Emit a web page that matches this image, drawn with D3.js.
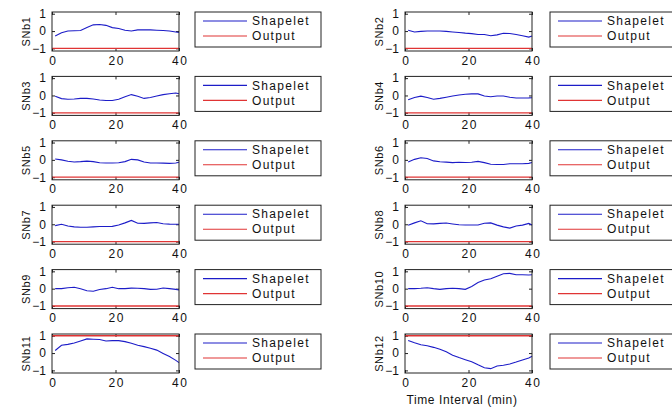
<!DOCTYPE html>
<html>
<head>
<meta charset="utf-8">
<script src="https://cdn.jsdelivr.net/npm/d3@7"></script>
<style>
  body { margin: 0; background: #fff; }
  svg { display: block; font-family: "Liberation Sans", Arial, sans-serif; }
</style>
</head>
<body>
<svg width="672" height="408"></svg>
<script>
// tijdstippen (min) waarop de shapelets bemonsterd zijn
const time = [1, 3, 5, 7, 9, 11, 13, 15, 17, 19, 21, 23, 25, 27, 29, 31, 33, 35, 37, 39, 40];

const panelNames = ["SNb1", "SNb2", "SNb3", "SNb4", "SNb5", "SNb6",
                    "SNb7", "SNb8", "SNb9", "SNb10", "SNb11", "SNb12"];

const shapelets = [
  [-0.28, -0.1, 0.0, 0.02, 0.03, 0.2, 0.36, 0.38, 0.33, 0.2, 0.15, 0.05, 0.0, 0.07, 0.07, 0.07, 0.05, 0.03, 0.0, -0.05, -0.08],
  [0.05, -0.05, -0.02, 0, 0, 0, -0.02, -0.05, -0.08, -0.12, -0.15, -0.2, -0.2, -0.27, -0.22, -0.13, -0.14, -0.2, -0.27, -0.35, -0.28],
  [-0.05, -0.18, -0.22, -0.2, -0.17, -0.17, -0.2, -0.26, -0.29, -0.29, -0.22, -0.07, 0.05, -0.05, -0.17, -0.12, -0.03, 0.05, 0.1, 0.14, 0.1],
  [-0.25, -0.12, -0.04, -0.12, -0.22, -0.17, -0.1, -0.03, 0.03, 0.07, 0.09, 0.09, -0.03, -0.07, -0.03, -0.03, -0.1, -0.15, -0.15, -0.14, -0.13],
  [0.05, 0.0, -0.08, -0.12, -0.1, -0.07, -0.1, -0.17, -0.18, -0.18, -0.17, -0.1, 0.03, 0.0, -0.12, -0.18, -0.18, -0.19, -0.2, -0.18, -0.14],
  [-0.12, 0.03, 0.12, 0.08, -0.06, -0.11, -0.13, -0.16, -0.14, -0.15, -0.14, -0.09, -0.16, -0.25, -0.27, -0.27, -0.22, -0.22, -0.22, -0.2, -0.15],
  [-0.08, 0.0, -0.1, -0.15, -0.17, -0.17, -0.15, -0.13, -0.13, -0.12, -0.04, 0.08, 0.22, 0.06, 0.05, 0.08, 0.1, 0.03, 0.01, 0.0, 0.0],
  [-0.06, 0.08, 0.2, 0.03, 0.02, 0.05, 0.07, 0.02, -0.03, -0.04, -0.04, -0.04, 0.06, 0.08, -0.05, -0.15, -0.22, -0.1, -0.05, 0.05, -0.04],
  [0, 0, 0.05, 0.08, 0.0, -0.12, -0.15, -0.05, 0.0, 0.08, 0.0, 0.0, 0.03, 0.02, 0.0, -0.04, -0.03, 0.04, 0.0, -0.04, -0.08],
  [0, 0, 0.02, 0.05, 0.0, -0.04, 0.0, 0.02, 0.0, -0.04, 0.12, 0.35, 0.5, 0.57, 0.72, 0.86, 0.88, 0.8, 0.8, 0.79, 0.8],
  [0.15, 0.45, 0.5, 0.58, 0.7, 0.82, 0.8, 0.78, 0.7, 0.72, 0.72, 0.66, 0.57, 0.45, 0.37, 0.28, 0.17, -0.02, -0.2, -0.42, -0.55],
  [0.73, 0.6, 0.48, 0.42, 0.33, 0.22, 0.08, -0.12, -0.26, -0.38, -0.5, -0.68, -0.85, -0.9, -0.75, -0.7, -0.63, -0.52, -0.4, -0.28, -0.18]
];

// uitkomst per shapelet (constant)
const outputs = [-1, -1, -1, -1, -1, -1, -1, -1, -1, -1, 1, 1];

const xTicks = [0, 20, 40];
const yTicks = [-1, 0, 1];
const legendLabels = ["Shapelet", "Output"];

const blue = "#1c1cc8", red = "#e03434";

const svg = d3.select("svg");
const pw = 127, ph = 39;
const colX = [52, 405], legX = [195, 550];

const x = d3.scaleLinear().domain([0, 40]).range([0, pw]);
const y = d3.scaleLinear().domain([-1.15, 1.1]).range([ph, 0]);

const line = d3.line()
    .x(d => x(d[0]))
    .y(d => y(d[1]));

shapelets.forEach(function (vals, i) {
  const col = i % 2, row = Math.floor(i / 2);
  const top = 12 + row * 64.4;
  const g = svg.append("g").attr("transform", "translate(" + colX[col] + "," + top + ")");

  // assen, ticks naar binnen zoals in matlab
  const xa = g.append("g").attr("transform", "translate(0," + ph + ")")
      .call(d3.axisBottom(x).tickValues(xTicks).tickSizeInner(-3).tickSizeOuter(0).tickPadding(5));
  g.append("g").call(d3.axisTop(x).tickValues(xTicks).tickSizeInner(-3).tickSizeOuter(0).tickFormat(""));
  g.append("g")
      .call(d3.axisLeft(y).tickValues(yTicks).tickSizeInner(-3).tickSizeOuter(0).tickPadding(6).tickFormat(d3.format("d")));
  g.append("g").attr("transform", "translate(" + pw + ",0)")
      .call(d3.axisRight(y).tickValues(yTicks).tickSizeInner(-3).tickSizeOuter(0).tickFormat(""));
  g.selectAll(".domain").remove();
  g.selectAll(".tick line").attr("stroke", "#222");
  g.selectAll(".tick text").attr("font-size", 12).attr("fill", "#111")
      .attr("font-family", "Liberation Sans, Arial, sans-serif");
  xa.selectAll(".tick text").attr("letter-spacing", 1.5).attr("dx", 0.75);

  g.append("line")
      .attr("x1", 0).attr("x2", pw)
      .attr("y1", y(outputs[i])).attr("y2", y(outputs[i]))
      .attr("stroke", red).attr("stroke-width", 1.3);

  g.append("path")
      .datum(time.map((t, k) => [t, vals[k]]))
      .attr("d", line)
      .attr("fill", "none")
      .attr("stroke", blue)
      .attr("stroke-width", 1.1);

  g.append("rect")
      .attr("width", pw).attr("height", ph)
      .attr("fill", "none").attr("stroke", "#222").attr("stroke-width", 1);

  g.append("text")
      .attr("transform", "translate(" + (-22) + "," + (ph / 2) + ")rotate(-90)")
      .attr("text-anchor", "middle")
      .attr("font-size", 11)
      .attr("letter-spacing", 0.6)
      .attr("fill", "#111")
      .text(panelNames[i]);

  // legenda
  const lg = svg.append("g").attr("transform", "translate(" + legX[col] + "," + top + ")");
  lg.append("rect").attr("width", 126).attr("height", 35)
      .attr("fill", "#fff").attr("stroke", "#222");
  legendLabels.forEach(function (lab, k) {
    const ly = 9 + k * 15;
    lg.append("line").attr("x1", 8).attr("x2", 52).attr("y1", ly).attr("y2", ly)
        .attr("stroke", k === 0 ? blue : red).attr("stroke-width", 1.1);
    lg.append("text").attr("x", 57).attr("y", ly).attr("dy", "0.35em")
        .attr("font-size", 12).attr("letter-spacing", 1.3).attr("fill", "#111")
        .text(lab);
  });
});

svg.append("text")
    .attr("x", colX[1] + 57).attr("y", 400).attr("dy", "0.35em")
    .attr("text-anchor", "middle")
    .attr("font-size", 12)
    .attr("letter-spacing", 0.6)
    .attr("fill", "#111")
    .text("Time Interval (min)");
</script>
</body>
</html>
